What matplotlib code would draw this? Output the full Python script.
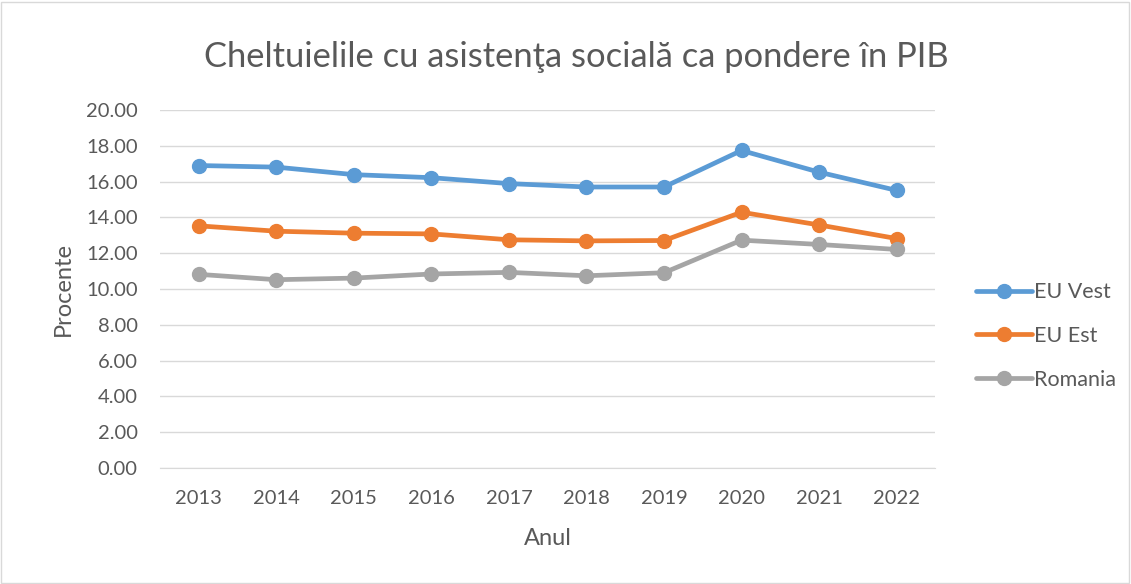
import matplotlib.pyplot as plt
from matplotlib.patches import Rectangle

plt.rcParams['font.family'] = ['Lato', 'DejaVu Sans']

# Data
years = ["2013", "2014", "2015", "2016", "2017", "2018", "2019", "2020", "2021", "2022"]
eu_vest = [16.90, 16.81, 16.39, 16.22, 15.89, 15.70, 15.70, 17.74, 16.53, 15.51]
eu_est = [13.53, 13.23, 13.12, 13.08, 12.75, 12.69, 12.71, 14.29, 13.58, 12.82]
romania = [10.82, 10.52, 10.61, 10.84, 10.93, 10.74, 10.91, 12.73, 12.49, 12.21]

series = [("EU Vest", eu_vest, "#5B9BD5"),
          ("EU Est", eu_est, "#ED7D31"),
          ("Romania", romania, "#A5A5A5")]

txt = "#595959"

fig = plt.figure(figsize=(11.31, 5.84), dpi=100)
ax = fig.add_axes([0.1415, 0.1986, 0.6855, 0.613])

x = range(len(years))
for name, vals, col in series:
    ax.plot(x, vals, color=col, linewidth=3.4, marker="o", markersize=10,
            solid_capstyle="round", label=name)

ax.set_xlim(-0.5, len(years) - 0.5)
ax.set_ylim(0, 20)
ax.set_yticks(range(0, 21, 2))
ax.set_yticklabels([f"{v:.2f}" for v in range(0, 21, 2)])
ax.set_xticks(list(x))
ax.set_xticklabels(years)

ax.grid(axis="y", color="#D9D9D9", linewidth=1)
ax.set_axisbelow(True)
for s in ["top", "right", "left"]:
    ax.spines[s].set_visible(False)
ax.spines["bottom"].set_color("#D9D9D9")
ax.tick_params(length=0, labelsize=14.5, colors=txt)
ax.tick_params(axis="x", pad=16)
ax.tick_params(axis="y", pad=16)

# Title centred slightly right of the figure centre, like the original
fig.text(0.510, 0.885, "Cheltuielile cu asistenţa socială ca pondere în PIB",
         fontsize=24.8, color=txt, ha="center", va="baseline")
ax.set_xlabel("Anul", fontsize=17, color=txt, labelpad=15)
ax.set_ylabel("Procente", fontsize=17, color=txt, labelpad=9)

leg = fig.legend(loc="upper left", bbox_to_anchor=(0.8455, 0.550),
                 frameon=False, fontsize=15.5, labelcolor=txt,
                 handlelength=2.6, handletextpad=0.1, labelspacing=1.1)

fig.patches.append(Rectangle((0.001, 0.002), 0.997, 0.995,
                             transform=fig.transFigure, fill=False,
                             edgecolor="#D9D9D9", linewidth=1))

fig.savefig("out.png", dpi=100)
